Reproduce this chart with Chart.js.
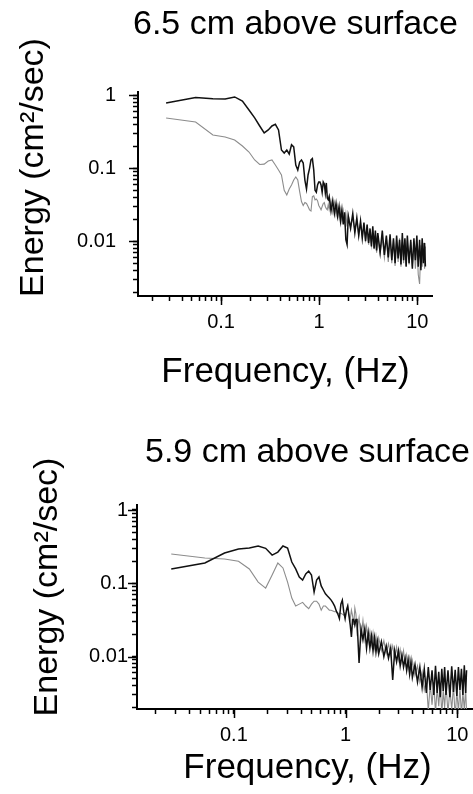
<!DOCTYPE html>
<html>
<head>
<meta charset="utf-8">
<script src="https://cdn.jsdelivr.net/npm/chart.js@4.4.1/dist/chart.umd.min.js"></script>
<style>
  html, body { margin: 0; padding: 0; background: #fff; overflow: hidden; width: 473px; height: 794px; }
  canvas { position: absolute; left: 0; }
  #top { top: 0; }
  #bottom { top: 397px; }
</style>
</head>
<body>
<canvas id="top" width="473" height="397"></canvas>
<canvas id="bottom" width="490" height="397"></canvas>
<script>
// frequency bins (Hz), shared by both spectra
const freqs = [
  0.0275, 0.055, 0.0825, 0.11, 0.1375, 0.165, 0.1925, 0.22, 0.2475, 0.275,
  0.3025, 0.33, 0.3575, 0.385, 0.4125, 0.44, 0.4675, 0.495, 0.5225, 0.55,
  0.5775, 0.605, 0.6325, 0.66, 0.6875, 0.715, 0.7425, 0.77, 0.7975, 0.825,
  0.8525, 0.88, 0.9075, 0.935, 0.9625, 0.99, 1.0175, 1.045, 1.0725, 1.1,
  1.1275, 1.155, 1.1825, 1.21, 1.2375,
  1.265, 1.32, 1.375, 1.43, 1.485, 1.54, 1.595, 1.65, 1.705, 1.76, 1.815, 1.87, 1.925, 1.98,
  2.09, 2.2, 2.31, 2.42, 2.53, 2.64, 2.75, 2.86, 2.97, 3.08, 3.19, 3.3, 3.41, 3.52, 3.63, 3.74, 3.85, 3.96,
  4.18, 4.4, 4.62, 4.84, 5.06, 5.28, 5.5, 5.72, 5.94, 6.16, 6.38, 6.6, 6.82, 7.04, 7.26, 7.48, 7.7, 7.92,
  8.25, 8.58, 8.91, 9.24, 9.57, 9.9, 10.23, 10.56, 10.89, 11.22, 11.55, 11.88, 12.1
];

// 6.5 cm above surface
const black65 = [
  0.785, 0.93, 0.90, 0.89, 0.95, 0.835, 0.63, 0.49, 0.38, 0.305,
  0.335, 0.38, 0.40, 0.335, 0.178, 0.162, 0.178, 0.157, 0.21, 0.196,
  0.111, 0.095, 0.122, 0.13, 0.118, 0.069, 0.052, 0.081, 0.10, 0.13,
  0.136, 0.095, 0.050, 0.047, 0.059, 0.065, 0.065, 0.059, 0.047, 0.065,
  0.061, 0.046, 0.063, 0.039, 0.037,
  0.041, 0.026, 0.036, 0.024, 0.033, 0.022, 0.030, 0.019, 0.027, 0.017, 0.025, 0.0105, 0.009, 0.022,
  0.015, 0.024, 0.013, 0.021, 0.012, 0.019, 0.011, 0.018, 0.010, 0.017, 0.0095, 0.015, 0.0085, 0.016, 0.008, 0.014, 0.0075, 0.013,
  0.007, 0.014, 0.0065, 0.012, 0.006, 0.0125, 0.0055, 0.011, 0.005, 0.012, 0.0058, 0.0105, 0.0048, 0.013, 0.0055, 0.011, 0.0045, 0.012,
  0.005, 0.0105, 0.0042, 0.011, 0.0055, 0.012, 0.0045, 0.0105, 0.004, 0.011, 0.005, 0.0095, 0.0045
];
const gray65 = [
  0.49, 0.43, 0.286, 0.268, 0.244, 0.202, 0.167, 0.13, 0.113, 0.114,
  0.126, 0.13, 0.111, 0.095, 0.081, 0.050, 0.043, 0.052, 0.059, 0.069,
  0.076, 0.069, 0.048, 0.035, 0.031, 0.034, 0.033, 0.030, 0.027, 0.026,
  0.041, 0.042, 0.037, 0.038, 0.036, 0.031, 0.029, 0.027, 0.030, 0.033,
  0.034, 0.030, 0.028, 0.027, 0.032,
  0.027, 0.036, 0.025, 0.034, 0.023, 0.031, 0.021, 0.028, 0.019, 0.026, 0.018, 0.024, 0.016, 0.023,
  0.016, 0.021, 0.014, 0.019, 0.012, 0.018, 0.0115, 0.016, 0.0105, 0.015, 0.009, 0.014, 0.0088, 0.013, 0.0078, 0.0125, 0.007, 0.012,
  0.0068, 0.011, 0.006, 0.0115, 0.0052, 0.011, 0.005, 0.0105, 0.0046, 0.010, 0.0052, 0.011, 0.0045, 0.0098, 0.005, 0.0105, 0.0046, 0.010,
  0.0048, 0.0098, 0.0045, 0.0102, 0.0042, 0.0095, 0.0035, 0.0026, 0.0088, 0.0045, 0.0095, 0.0042, 0.0085
];

// 5.9 cm above surface
const black59 = [
  0.157, 0.189, 0.259, 0.294, 0.303, 0.323, 0.30, 0.243, 0.267, 0.323,
  0.303, 0.195, 0.157, 0.122, 0.111, 0.134, 0.147, 0.13, 0.076, 0.111,
  0.122, 0.092, 0.081, 0.072, 0.067, 0.063, 0.059, 0.054, 0.049, 0.042,
  0.038, 0.033, 0.052, 0.059, 0.041, 0.033, 0.043, 0.049, 0.036, 0.027,
  0.0185, 0.032, 0.032, 0.027, 0.032,
  0.032, 0.0082, 0.024, 0.017, 0.024, 0.013, 0.021, 0.013, 0.019, 0.012, 0.018, 0.0115, 0.016, 0.011,
  0.016, 0.010, 0.014, 0.0095, 0.013, 0.0048, 0.012, 0.0085, 0.012, 0.0075, 0.0105, 0.0072, 0.0095, 0.0065, 0.009, 0.0058, 0.0085, 0.0052,
  0.0078, 0.0045, 0.0072, 0.0038, 0.0068, 0.0032, 0.0072, 0.0035, 0.0065, 0.003, 0.0075, 0.0032, 0.0062, 0.0028, 0.0068, 0.0034, 0.0072, 0.003,
  0.0065, 0.0028, 0.0074, 0.0033, 0.0066, 0.0029, 0.0072, 0.0035, 0.0068, 0.003, 0.0076, 0.0032, 0.0065
];
const gray59 = [
  0.251, 0.221, 0.215, 0.20, 0.157, 0.104, 0.086, 0.13, 0.189, 0.162,
  0.104, 0.063, 0.049, 0.052, 0.055, 0.049, 0.045, 0.052, 0.057, 0.057,
  0.052, 0.043, 0.049, 0.049, 0.046, 0.043, 0.043, 0.042, 0.041, 0.041,
  0.039, 0.039, 0.039, 0.038, 0.037, 0.035, 0.041, 0.049, 0.037, 0.032,
  0.043, 0.036, 0.027, 0.046, 0.038,
  0.022, 0.034, 0.018, 0.031, 0.017, 0.026, 0.016, 0.022, 0.0145, 0.021, 0.013, 0.019, 0.0125, 0.018,
  0.012, 0.0165, 0.011, 0.015, 0.0105, 0.014, 0.0095, 0.0135, 0.009, 0.0125, 0.0085, 0.012, 0.008, 0.0105, 0.007, 0.0095, 0.0062, 0.0088,
  0.0055, 0.0075, 0.0045, 0.0062, 0.0035, 0.0048, 0.0018, 0.0042, 0.0022, 0.0045, 0.0017, 0.0038, 0.0021, 0.0044, 0.0016, 0.0035, 0.002, 0.0042,
  0.0017, 0.0036, 0.0019, 0.0040, 0.0015, 0.0034, 0.0018, 0.0038, 0.0016, 0.0033, 0.0019, 0.0036, 0.0017
];

const xMajor = [0.1, 1, 10];
const xTickLabels = ['0.1', '1', '10'];
const yMajor = [0.01, 0.1, 1];
const yTickLabels = ['0.01', '0.1', '1'];
const xTitle = 'Frequency, (Hz)';
const yTitle = 'Energy (cm\u00B2/sec)';

const FONT = '"Liberation Sans", Arial, Helvetica, sans-serif';

// ticks at 1..9 x each decade inside the axis range
function logTicks(min, max) {
  const out = [];
  for (let e = Math.floor(Math.log10(min)); e <= Math.ceil(Math.log10(max)); e++) {
    for (let m = 1; m <= 9; m++) {
      const v = m * Math.pow(10, e);
      if (v >= min && v <= max) out.push({ value: v });
    }
  }
  return out;
}

function labelFor(v, majors, labels) {
  const i = majors.findIndex(m => Math.abs(m - v) / m < 1e-6);
  return i >= 0 ? labels[i] : '';
}

// longer major ticks + titles
const decorations = {
  id: 'decorations',
  afterDraw(chart, args, o) {
    const ctx = chart.ctx;
    const { left, bottom } = chart.chartArea;
    const xs = chart.scales.x, ys = chart.scales.y;
    ctx.save();
    ctx.strokeStyle = '#000';
    ctx.lineWidth = 1.5;
    xMajor.forEach(v => {
      const px = Math.round(xs.getPixelForValue(v)) + 0.5;
      ctx.beginPath(); ctx.moveTo(px, bottom); ctx.lineTo(px, bottom + 9); ctx.stroke();
    });
    yMajor.forEach(v => {
      const py = Math.round(ys.getPixelForValue(v)) + 0.5;
      ctx.beginPath(); ctx.moveTo(left, py); ctx.lineTo(left - 9, py); ctx.stroke();
    });
    ctx.fillStyle = '#000';
    ctx.textAlign = 'center';
    ctx.textBaseline = 'alphabetic';
    ctx.font = '34px ' + FONT;
    ctx.fillText(o.title, o.titleX, o.titleY);
    ctx.font = '35px ' + FONT;
    ctx.fillText(xTitle, o.xTitleX, o.xTitleY);
    ctx.translate(o.yTitleX, o.yTitleY);
    ctx.rotate(-Math.PI / 2);
    ctx.font = '34px ' + FONT;
    ctx.fillText(yTitle, 0, 0);
    ctx.restore();
  }
};

function makeChart(id, black, gray, o) {
  return new Chart(document.getElementById(id), {
    type: 'line',
    data: {
      datasets: [
        {
          data: freqs.map((f, i) => ({ x: f, y: black[i] })),
          borderColor: '#111',
          borderWidth: 1.5,
          pointRadius: 0,
          tension: 0
        },
        {
          data: freqs.map((f, i) => ({ x: f, y: gray[i] })),
          borderColor: '#8c8c8c',
          borderWidth: 1.1,
          pointRadius: 0,
          tension: 0
        }
      ]
    },
    plugins: [decorations],
    options: {
      responsive: false,
      animation: false,
      devicePixelRatio: 1,
      layout: { padding: { top: o.top, right: o.right, left: 0, bottom: 0 } },
      plugins: {
        legend: { display: false },
        tooltip: { enabled: false },
        decorations: o
      },
      scales: {
        x: {
          type: 'logarithmic',
          min: o.xMin,
          max: o.xMax,
          afterBuildTicks: s => { s.ticks = logTicks(s.min, s.max); },
          afterFit: s => { s.height = o.xHeight; },
          grid: { drawOnChartArea: false, drawTicks: true, tickLength: 5, tickColor: '#000', tickWidth: 1.5 },
          border: { display: true, color: '#000', width: 2 },
          ticks: {
            autoSkip: false,
            maxRotation: 0,
            padding: 9,
            color: '#000',
            font: { family: FONT, size: 20 },
            callback: v => labelFor(v, xMajor, xTickLabels)
          }
        },
        y: {
          type: 'logarithmic',
          min: o.yMin,
          max: o.yMax,
          afterBuildTicks: s => { s.ticks = logTicks(s.min, s.max); },
          afterFit: s => { s.width = o.yWidth; },
          grid: { drawOnChartArea: false, drawTicks: true, tickLength: 5, tickColor: '#000', tickWidth: 1.5 },
          border: { display: true, color: '#000', width: 2 },
          ticks: {
            autoSkip: false,
            padding: o.yPad,
            color: '#000',
            font: { family: FONT, size: 20 },
            callback: v => labelFor(v, yMajor, yTickLabels)
          }
        }
      }
    }
  });
}

makeChart('top', black65, gray65, {
  top: 92, right: 41, xHeight: 101, yWidth: 138, yPad: 17,
  xMin: 0.01422, xMax: 14.13, yMin: 0.00178, yMax: 1.11,
  title: '6.5 cm above surface', titleX: 295.5, titleY: 34,
  xTitleX: 285.5, xTitleY: 382, yTitleX: 43, yTitleY: 167.5
});

makeChart('bottom', black59, gray59, {
  top: 108, right: 10, xHeight: 85, yWidth: 137, yPad: 4,
  xMin: 0.01358, xMax: 15.96, yMin: 0.00193, yMax: 1.17,
  title: '5.9 cm above surface', titleX: 307.5, titleY: 65,
  xTitleX: 307.5, xTitleY: 381, yTitleX: 57, yTitleY: 190
});
</script>
</body>
</html>
